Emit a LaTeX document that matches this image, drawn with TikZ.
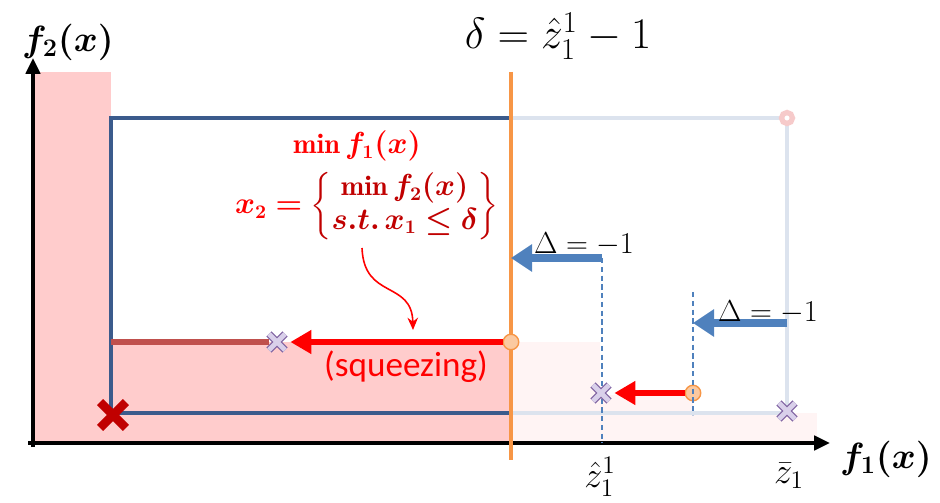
\documentclass[tikz,border=0pt]{standalone}
\usepackage{amsmath,amssymb}
\usepackage{bm}
\usepackage{fontspec}
\newfontfamily\squeezefont{Carlito}
\usetikzlibrary{arrows.meta,shapes.misc}
\definecolor{boxblue}{HTML}{3B5B8C}
\definecolor{ghostblue}{HTML}{DCE3EE}
\definecolor{deltaorange}{HTML}{F79646}
\definecolor{lightorange}{HTML}{FBC9A0}
\definecolor{arrowblue}{HTML}{4F81BD}
\definecolor{brownred}{HTML}{C0504D}
\definecolor{darkred}{HTML}{C00000}
\definecolor{pinkfill}{HTML}{FFCCCC}
\definecolor{faintpink}{HTML}{FFF4F4}
\definecolor{xedge}{HTML}{8064A2}
\definecolor{xfill}{HTML}{D9D0EA}
\definecolor{ringpink}{HTML}{F6CACA}

\begin{document}
\begin{tikzpicture}[
  x=0.02cm,y=-0.02cm,
  every node/.style={align=center,inner sep=0pt},
  axis/.style={-{Triangle[length=9pt,width=8pt]},line width=2.2pt,draw=black},
  boxline/.style={draw=boxblue,line width=1.8pt},
  ghostline/.style={draw=ghostblue,line width=1.8pt},
  deltaline/.style={draw=deltaorange,line width=2.4pt},
  bluearr/.style={-{Triangle[length=12pt,width=15pt]},line width=4.5pt,draw=arrowblue},
  redarr/.style={-{Triangle[length=12pt,width=13pt]},line width=3.8pt,draw=red},
  guide/.style={draw=arrowblue,line width=0.6pt,dash pattern=on 3pt off 2pt},
  hitpt/.style={circle,draw=deltaorange,fill=lightorange,line width=0.8pt,minimum size=0.31cm},
  xlight/.style={cross out,draw=xedge,double=xfill,double distance=2.8pt,line width=0.7pt,minimum size=0.3cm},
  xbig/.style={cross out,draw=darkred,line width=5pt,minimum size=0.34cm},
  ring/.style={circle,draw=ringpink,fill=white,line width=3pt,minimum size=0.22cm},
  mathlbl/.style={font=\fontsize{22}{26}\selectfont},
  ticklbl/.style={font=\fontsize{22}{26}\selectfont},
  steplbl/.style={font=\fontsize{16}{19}\selectfont},
  redlbl/.style={font=\fontsize{16}{19}\selectfont,text=red}
]
\useasboundingbox (0,0) rectangle (940,503);

% shaded regions
\fill[pinkfill] (33,72) rectangle (111,443);
\fill[pinkfill] (111,342) rectangle (510,443);
\fill[faintpink] (513,342) rectangle (600,443);
\fill[faintpink] (600,395) rectangle (693,443);
\fill[faintpink] (693,413) rectangle (817,443);

% boxes
\draw[ghostline] (510,118) -- (787,118) -- (787,413) -- (510,413);
\draw[boxline] (510,118) -- (111,118) -- (111,413) -- (510,413);

% axes
\coordinate (orig) at (33,443);
\coordinate (ytip) at (33,58);
\coordinate (xtip) at (830,443);
\draw[axis] (33,447) -- (ytip);
\draw[axis] (28,443) -- (xtip);
\node[mathlbl] (f2) at (68,42) {$\bm{f_2(x)}$};
\node[mathlbl] (f1) at (886,459) {$\bm{f_1(x)}$};
\node[ticklbl] (zhat) at (600,477) {$\hat{z}_1^1$};
\node[ticklbl] (zbar) at (789,476) {$\bar{z}_1$};

% delta line
\draw[deltaline] (511,72) -- (511,460);
\node[font=\fontsize{27}{32}\selectfont] (dlbl) at (558,36) {$\delta = \hat{z}_1^1 - 1$};

% first squeeze
\coordinate (bl) at (111,342);
\node[xlight] (x1) at (277,342) {};
\draw[brownred,line width=3.4pt] (bl) -- (x1.west);
\node[hitpt] (o1) at (511,342) {};
\draw[redarr,shorten >=3pt] (o1.west) -- (x1.east);
\node[font=\squeezefont\fontsize{20}{24}\selectfont,text=red] (sq) at (406,367) {(squeezing)};

% formula
\node[redlbl] (minf1) at (357,146) {$\bm{\min f_1(x)}$};
\node[redlbl] (x2eq) at (367,206) {$\bm{x_2 =} {\color{darkred}\left\{\begin{matrix}\bm{\min f_2(x)}\\ \bm{s.t.\,x_1 \le \delta}\end{matrix}\right\}}$};
\coordinate (cs) at (362,248);
\coordinate (ce) at (413,330);
\draw[red,line width=0.9pt,-{Stealth[length=7pt,width=6pt]}] (cs) .. controls (364,300) and (412,280) .. (ce);

% second step
\coordinate (a1) at (602,258);
\coordinate (a1e) at (511,258);
\draw[guide] (a1) -- (602,443);
\draw[bluearr] (a1) -- (a1e);
\node[steplbl] (d1) at (584,244) {$\Delta = -1$};
\node[xlight] (x2) at (601,393) {};
\node[hitpt] (o2) at (693,393) {};
\draw[redarr,shorten >=3pt] (o2.west) -- (x2.east);

% third step
\coordinate (a2) at (787,323);
\coordinate (a2e) at (693,323);
\draw[guide] (693,292) -- (693,415);
\draw[bluearr] (a2) -- (a2e);
\node[steplbl] (d2) at (768,312) {$\Delta = -1$};
\node[xlight] (x3) at (787,411) {};
\node[ring] (r1) at (787,118) {};

% ideal point
\node[xbig] (ideal) at (113,415) {};
\end{tikzpicture}
\end{document}
